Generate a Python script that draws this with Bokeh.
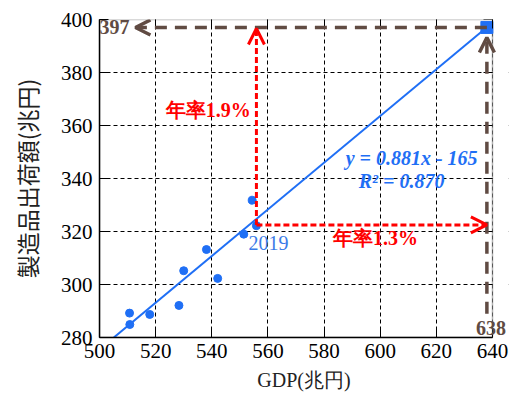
from bokeh.plotting import figure
from bokeh.models import Arrow, OpenHead, Label, LinearAxis, BoxAnnotation
from bokeh.embed import file_html
from bokeh.resources import INLINE

# data
gdp = [510.7, 510.8, 517.9, 528.3, 530.0, 538.1, 542.1, 551.4, 554.4, 555.9]
mfg = [289.2, 284.9, 288.7, 292.1, 305.2, 313.2, 302.3, 319.0, 331.8, 322.2]
fit_slope = 0.881
fit_intercept = -165.0
fit_x = [505.1, 638.0]
target_gdp = 638
target_mfg = 397
x_ticks = [500, 520, 540, 560, 580, 600, 620, 640]
y_ticks = [280, 300, 320, 340, 360, 380, 400]

BLUE = "#1f6ff5"
RED = "#ff0000"
BROWN = "#604b43"
SERIF = "Liberation Serif"
X0, X1 = x_ticks[0], x_ticks[-1]
Y0, Y1 = y_ticks[0], y_ticks[-1]

# frame extends slightly right of 640 so that the "638" label is not clipped
p = figure(width=513, height=397, x_range=(X0, 645.7), y_range=(Y0, Y1),
           output_backend="svg", toolbar_location=None,
           min_border_left=99, min_border_right=5, min_border_top=19, min_border_bottom=60)
p.background_fill_color = "white"
p.border_fill_color = "white"
p.outline_line_color = None

for axs in (p.xaxis, p.yaxis):
    axs.major_label_text_font = SERIF
    axs.major_label_text_font_size = "21px"
    axs.major_label_text_color = "black"
    axs.major_tick_in = 9
    axs.major_tick_out = 0
    axs.minor_tick_in = 0
    axs.minor_tick_out = 0
    axs.axis_line_color = "black"
    axs.axis_line_width = 1.5
    axs.major_tick_line_color = "black"
    axs.axis_label_text_font_style = "normal"
    axs.axis_label_text_color = "#222222"

p.xaxis.ticker = x_ticks
p.yaxis.ticker = y_ticks
p.xaxis.bounds = (X0, X1)
p.xaxis.major_label_standoff = 6
p.yaxis.major_label_standoff = 7
p.xaxis.axis_label = "GDP(兆円)"
p.xaxis.axis_label_text_font = SERIF
p.xaxis.axis_label_text_font_size = "20px"
p.xaxis.axis_label_standoff = 8
p.yaxis.axis_label = "製造品出荷額(兆円)"
p.yaxis.axis_label_text_font = "Noto Sans CJK JP"
p.yaxis.axis_label_text_font_size = "23px"
p.yaxis.axis_label_standoff = 14

top_ax = LinearAxis(ticker=x_ticks, bounds=(X0, X1), major_label_overrides={t: "" for t in x_ticks},
                    major_label_standoff=0, major_tick_in=9, major_tick_out=0,
                    minor_tick_in=0, minor_tick_out=0, axis_line_color=None,
                    major_tick_line_color="black")
p.add_layout(top_ax, "above")
right_ax = LinearAxis(ticker=y_ticks, fixed_location=X1, major_label_overrides={t: "" for t in y_ticks},
                      major_label_standoff=0, major_tick_in=9, major_tick_out=0,
                      minor_tick_in=0, minor_tick_out=0, axis_line_color=None,
                      major_tick_line_color="black")
p.add_layout(right_ax, "right")

p.xgrid.ticker = x_ticks
p.ygrid.ticker = y_ticks
for g in (p.xgrid[0], p.ygrid[0]):
    g.grid_line_color = "black"
    g.grid_line_dash = "4 3"
    g.grid_line_width = 1

# white mask right of the axis limit, then the frame box
p.add_layout(BoxAnnotation(left=X1, fill_color="white", fill_alpha=1, line_alpha=0, level="underlay"))
p.add_layout(BoxAnnotation(left=X0, right=X1, bottom=Y0, top=Y1, fill_alpha=0,
                           line_color="black", line_width=1.5, level="underlay"))

# fit line
fit_y = [fit_slope * x + fit_intercept for x in fit_x]
p.line(fit_x, fit_y, line_color=BLUE, line_width=2)

# points
p.scatter(gdp, mfg, size=8, marker="circle", fill_color=BLUE, line_color=BLUE)
p.scatter([target_gdp], [target_mfg], size=12, marker="square", fill_color=BLUE, line_color=BLUE)

# brown dashed guides
p.add_layout(Arrow(x_start=target_gdp, y_start=target_mfg, x_end=512.8, y_end=target_mfg,
                   line_color=BROWN, line_width=3.5, line_dash="12 8",
                   end=OpenHead(size=15, line_color=BROWN, line_width=3.5)))
p.add_layout(Arrow(x_start=target_gdp, y_start=289, x_end=target_gdp, y_end=393.2,
                   line_color=BROWN, line_width=3.5, line_dash="12 8",
                   end=OpenHead(size=15, line_color=BROWN, line_width=3.5)))

# red dotted guides from 2019
x19, y19 = gdp[-1], 322.5
p.add_layout(Arrow(x_start=x19, y_start=y19, x_end=x19, y_end=396.6,
                   line_color=RED, line_width=3, line_dash="6 3",
                   end=OpenHead(size=16, line_color=RED, line_width=3)))
p.add_layout(Arrow(x_start=x19, y_start=y19, x_end=target_gdp, y_end=y19,
                   line_color=RED, line_width=3, line_dash="6 3",
                   end=OpenHead(size=16, line_color=RED, line_width=3)))

def lab(x, y, t, color, size="20px", style="bold", align="center", font=SERIF):
    p.add_layout(Label(x=x, y=y, text=t, text_color=color, text_font=font,
                       text_font_size=size, text_font_style=style,
                       text_align=align, text_baseline="middle"))

lab(505.3, target_mfg, str(target_mfg), BROWN)
lab(639.5, 283.4, str(target_gdp), BROWN)
lab(538.7, 365.7, "年率1.9%", RED)
lab(598.3, 317.4, "年率1.3%", RED)
lab(611.2, 347.9, "y = 0.881x - 165", BLUE, size="20px", style="bold italic")
lab(607.6, 339.2, "R² = 0.870", BLUE, size="20px", style="bold italic")
lab(553.1, 315.8, "2019", "#3a7be8", size="20px", style="normal", align="left")

open("out.html", "w").write(file_html(p, INLINE))
